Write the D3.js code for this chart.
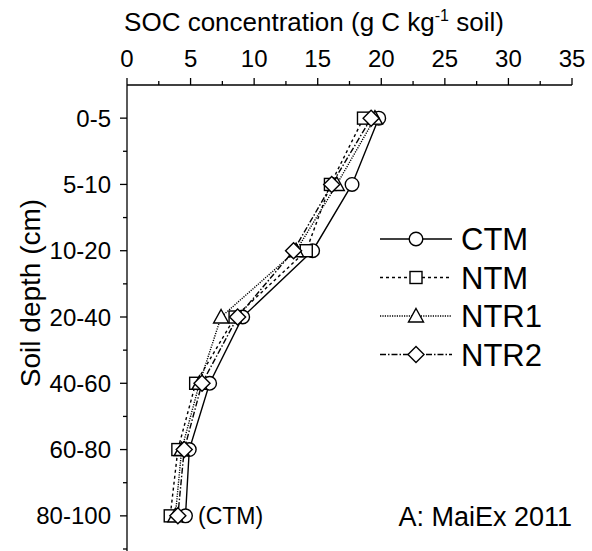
<!DOCTYPE html>
<html><head><meta charset="utf-8">
<script src="https://cdn.jsdelivr.net/npm/d3@7"></script>
<style>
html,body{margin:0;padding:0;background:#fff;}
svg{display:block;font-family:"Liberation Sans",Arial,sans-serif;}
</style></head>
<body><svg id="c" width="592" height="551"></svg>
<script>
const depths = ["0-5","5-10","10-20","20-40","40-60","60-80","80-100"];
const xTicks = [0,5,10,15,20,25,30,35];
const seriesNames = ["CTM","NTM","NTR1","NTR2"];
const ctm  = [19.8, 17.7, 14.6, 9.1, 6.5, 4.9, 4.6];
const ntm  = [18.6, 16.0, 14.1, 8.5, 5.4, 4.0, 3.4];
const ntr1 = [19.5, 16.5, 13.3, 7.4, 5.7, 4.3, 3.8];
const ntr2 = [19.2, 16.1, 13.1, 8.7, 5.9, 4.5, 4.0];
const seriesValues = [ctm, ntm, ntr1, ntr2];
const markers = ["circle","square","triangle","diamond"];
const dashes = [null, "3,3", "1.2,1.2", "6,2,1.5,2"];

const svg = d3.select("#c");
const x = d3.scaleLinear().domain([0,35]).range([127,572]);
const y = d3.scalePoint().domain(depths).range([85,549]).padding(0.5);

// X axis (top)
const xAxis = svg.append("g").attr("transform","translate(0,85)");
xAxis.append("line").attr("x1",x(0)).attr("x2",x(35)).attr("y1",0).attr("y2",0).attr("stroke","#000").attr("stroke-width",1.3);
xAxis.selectAll("line.maj").data(xTicks).enter().append("line")
  .attr("x1",d=>x(d)).attr("x2",d=>x(d)).attr("y1",0).attr("y2",-7).attr("stroke","#000").attr("stroke-width",1.3);
xAxis.selectAll("line.min").data(xTicks.slice(0,-1).map(d=>d+2.5)).enter().append("line")
  .attr("x1",d=>x(d)).attr("x2",d=>x(d)).attr("y1",0).attr("y2",-4).attr("stroke","#000").attr("stroke-width",1.3);
xAxis.selectAll("text").data(xTicks).enter().append("text")
  .attr("x",d=>x(d)).attr("y",-18).attr("text-anchor","middle").attr("font-size",24).text(d=>d);

const xt = svg.append("text").attr("x",314).attr("y",31).attr("text-anchor","middle").attr("font-size",26);
xt.append("tspan").text("SOC concentration (g C kg");
xt.append("tspan").attr("font-size",16).attr("dy",-10).text("-1");
xt.append("tspan").attr("dy",10).text(" soil)");

// Y axis (left)
const yAxis = svg.append("g").attr("transform","translate(127,0)");
yAxis.append("line").attr("x1",0).attr("x2",0).attr("y1",85).attr("y2",551).attr("stroke","#000").attr("stroke-width",1.3);
yAxis.selectAll("line.maj").data(depths).enter().append("line")
  .attr("x1",0).attr("x2",-7).attr("y1",d=>y(d)).attr("y2",d=>y(d)).attr("stroke","#000").attr("stroke-width",1.3);
const step = y.step();
yAxis.selectAll("line.min").data(depths).enter().append("line")
  .attr("x1",0).attr("x2",-4).attr("y1",d=>y(d)+step/2).attr("y2",d=>y(d)+step/2).attr("stroke","#000").attr("stroke-width",1.3);
yAxis.selectAll("text").data(depths).enter().append("text")
  .attr("x",-16).attr("y",d=>y(d)).attr("dy","0.36em").attr("text-anchor","end").attr("font-size",24).text(d=>d);

svg.append("text").attr("transform","translate(40,293) rotate(-90)").attr("text-anchor","middle")
  .attr("font-size",28).text("Soil depth (cm)");

// symbol drawing
function drawMarker(g, type, cx, cy){
  const s = {fill:"#fff", stroke:"#000", "stroke-width":1.4};
  let el;
  if(type==="circle") el = g.append("circle").attr("cx",cx).attr("cy",cy).attr("r",6.8);
  else if(type==="square") el = g.append("rect").attr("x",cx-6).attr("y",cy-6).attr("width",12).attr("height",12);
  else if(type==="triangle") el = g.append("path").attr("d",`M${cx},${cy-7.5}L${cx+7.5},${cy+6}L${cx-7.5},${cy+6}Z`);
  else el = g.append("path").attr("d",`M${cx},${cy-8}L${cx+8},${cy}L${cx},${cy+8}L${cx-8},${cy}Z`);
  for(const k in s) el.attr(k,s[k]);
}

const line = d3.line().x(d=>x(d.v)).y(d=>y(d.c));
seriesValues.forEach((vals,i)=>{
  const pts = vals.map((v,j)=>({v, c:depths[j]}));
  svg.append("path").attr("d",line(pts)).attr("fill","none").attr("stroke","#000")
    .attr("stroke-width",1.4).attr("stroke-dasharray",dashes[i]);
});
seriesValues.forEach((vals,i)=>{
  const g = svg.append("g");
  vals.forEach((v,j)=>drawMarker(g, markers[i], x(v), y(depths[j])));
});

// legend
const legY0 = 239, legStep = 38.5;
seriesNames.forEach((n,i)=>{
  const ly = legY0 + i*legStep;
  const g = svg.append("g");
  g.append("line").attr("x1",380).attr("x2",452).attr("y1",ly).attr("y2",ly).attr("stroke","#000")
    .attr("stroke-width",1.4).attr("stroke-dasharray",dashes[i]);
  drawMarker(g, markers[i], 416, ly);
  g.append("text").attr("x",461).attr("y",ly).attr("dy","0.36em").attr("font-size",31).text(n);
});

svg.append("text").attr("x",198).attr("y",516).attr("dy","0.36em").attr("font-size",23).text("(CTM)");
svg.append("text").attr("x",572).attr("y",516).attr("dy","0.36em").attr("text-anchor","end").attr("font-size",27).text("A: MaiEx 2011");
</script></body></html>
